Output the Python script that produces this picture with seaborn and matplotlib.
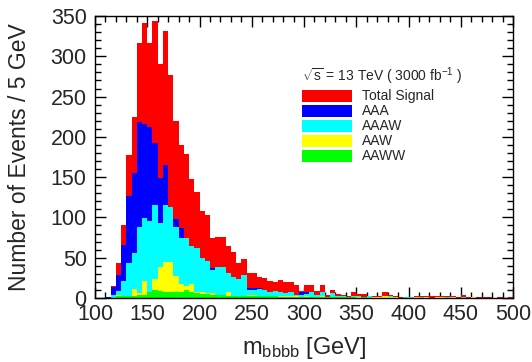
import numpy as np
import pandas as pd
import matplotlib
matplotlib.use("Agg")
import matplotlib.pyplot as plt
import seaborn as sns
from matplotlib.patches import Rectangle
from matplotlib.ticker import MultipleLocator

# 5 GeV bins from 100 to 500 GeV (80 bins)
edges = np.arange(100, 505, 5)
centers = edges[:-1] + 2.5

total = [0, 0, 1, 15, 43, 90, 177, 225, 316, 341,
         316, 344, 291, 331, 277, 220, 190, 179, 148, 132,
         108, 103, 75, 76, 76, 64, 57, 43, 48, 31,
         31, 26, 25, 21, 20, 22, 20, 20, 16, 9,
         16, 16, 9, 16, 4, 10, 5, 4, 3, 7,
         5, 5, 2, 3, 2, 8, 4, 3, 1, 1,
         1, 2, 3, 2, 2, 2, 2, 2, 3, 1,
         4, 1, 1, 1, 1, 1, 0, 1, 0, 1]

aaa = [0, 0, 1, 14, 28, 66, 127, 155, 218, 216,
       212, 192, 149, 165, 113, 98, 87, 75, 65, 62,
       50, 46, 37, 39, 38, 31, 26, 23, 29, 12,
       12, 13, 10, 7, 9, 8, 6, 8, 4, 7,
       7, 8, 4, 7, 1, 6, 3, 2, 1, 2,
       2, 1, 2, 1, 1, 3, 2, 1, 0, 1,
       1, 1, 1, 1, 0, 1, 1, 1, 1, 0,
       1, 0, 1, 0, 0, 0, 0, 0, 0, 0]

aaaw = [0, 0, 0, 4, 9, 21, 43, 56, 88, 99,
        95, 116, 93, 115, 113, 88, 75, 75, 65, 62,
        50, 46, 35, 39, 38, 31, 26, 23, 29, 10,
        10, 11, 10, 7, 9, 8, 6, 8, 4, 4,
        5, 7, 4, 7, 1, 6, 3, 2, 1, 2,
        2, 1, 2, 1, 1, 3, 2, 1, 0, 1,
        1, 1, 1, 1, 0, 1, 1, 1, 1, 0,
        1, 0, 1, 0, 0, 0, 0, 0, 0, 0]

aaw = [0, 0, 0, 0, 4, 3, 2, 11, 6, 21,
       6, 23, 39, 45, 45, 27, 17, 15, 17, 7,
       8, 6, 6, 4, 4, 8, 3, 3, 3, 4,
       4, 3, 3, 2, 3, 2, 3, 2, 2, 1,
       2, 1, 1, 2, 1, 1, 1, 1, 1, 1,
       1, 1, 0, 1, 1, 2, 1, 1, 0, 0,
       0, 1, 0, 1, 0, 1, 1, 0, 1, 0,
       0, 0, 1, 0, 0, 0, 0, 0, 0, 0]

aaww = [0, 0, 0, 0, 2, 2, 2, 2, 4, 4,
        7, 10, 9, 7, 8, 8, 8, 10, 8, 6,
        5, 5, 4, 4, 4, 3, 3, 3, 3, 2,
        2, 2, 2, 2, 2, 1, 1, 1, 1, 1,
        1, 1, 1, 1, 1, 1, 1, 1, 1, 1,
        0, 1, 0, 0, 0, 0, 0, 0, 0, 0,
        0, 0, 0, 0, 0, 0, 0, 0, 0, 0,
        0, 0, 0, 0, 0, 0, 0, 0, 0, 0]

series = [("Total Signal", total, "#ff0000"),
          ("AAA", aaa, "#0000ff"),
          ("AAAW", aaaw, "#00ffff"),
          ("AAW", aaw, "#ffff00"),
          ("AAWW", aaww, "#00ff00")]

sns.set_style("ticks")
plt.rcParams['font.family'] = ['Liberation Sans', 'DejaVu Sans']
plt.rcParams['mathtext.fontset'] = 'custom'
plt.rcParams['mathtext.rm'] = 'Liberation Sans'
plt.rcParams['mathtext.it'] = 'Liberation Sans'

fig = plt.figure(figsize=(5.32, 3.62), dpi=100)
ax = fig.add_axes([0.1786, 0.1768, 0.7857, 0.779])

for name, vals, col in series:
    df = pd.DataFrame({"m": centers, "n": np.array(vals, dtype=float)})
    sns.histplot(data=df, x="m", weights="n", binwidth=5, binrange=(100, 500),
                 element="step", fill=True, color=col, alpha=1, linewidth=0, ax=ax)

ax.set_xlim(100, 500)
ax.set_ylim(0, 350)
ax.xaxis.set_major_locator(MultipleLocator(50))
ax.xaxis.set_minor_locator(MultipleLocator(10))
ax.yaxis.set_major_locator(MultipleLocator(50))
ax.yaxis.set_minor_locator(MultipleLocator(10))
ax.tick_params(which='both', direction='in', top=True, right=True, labelsize=15.5,
               color='black', width=1)
ax.tick_params(which='major', length=8)
ax.tick_params(which='minor', length=4)
ax.tick_params(axis='y', which='major', pad=6)
ax.tick_params(axis='x', which='major', pad=4)
for sp in ax.spines.values():
    sp.set_linewidth(1)
    sp.set_color('black')

ax.set_ylabel("Number of Events / 5 GeV", fontsize=16.5)
ax.yaxis.set_label_coords(-0.152, 0.5)
ax.set_xlabel(r"$\mathregular{m_{bbbb}}$ [GeV]", fontsize=17)
ax.xaxis.set_label_coords(0.5, -0.13)

# legend box drawn by hand, ROOT style
ax.text(0.496, 0.785, r"$\sqrt{s}$ = 13 TeV ( 3000 fb$^{-1}$ )", transform=ax.transAxes,
        fontsize=10, va='center', ha='left')
rows = [0.716, 0.663, 0.610, 0.557, 0.504]
for (name, vals, col), yy in zip(series, rows):
    ax.add_patch(Rectangle((0.496, yy - 0.021), 0.12, 0.042, transform=ax.transAxes,
                           facecolor=col, edgecolor='none'))
    ax.text(0.638, yy, name, transform=ax.transAxes, fontsize=10, va='center', ha='left')

fig.savefig("out.png", dpi=100)
